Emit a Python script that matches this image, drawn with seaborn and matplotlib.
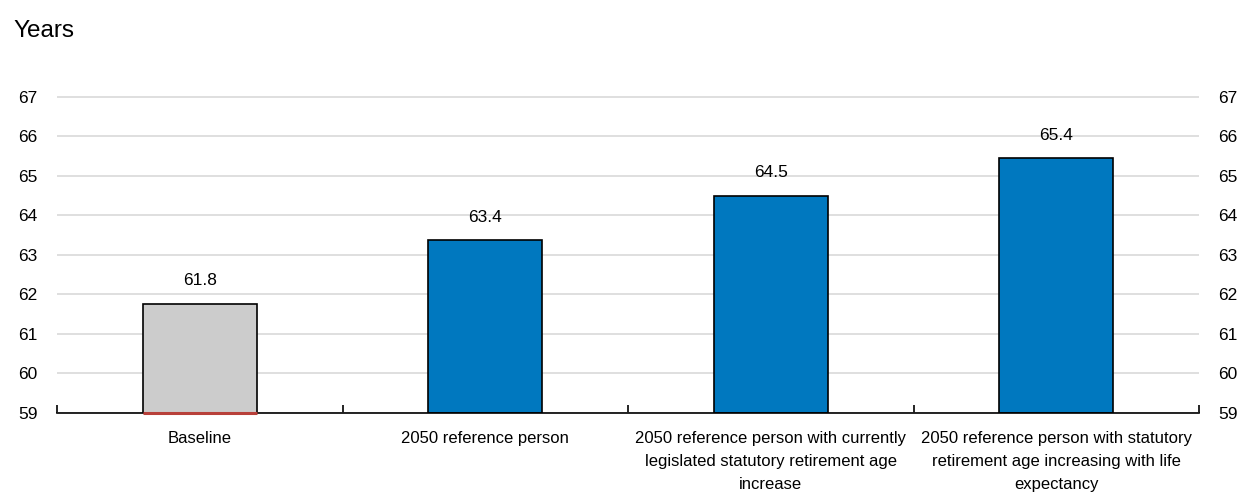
import matplotlib
matplotlib.use("Agg")
import matplotlib.pyplot as plt
import seaborn as sns
import pandas as pd
import numpy as np

categories = [
    "Baseline",
    "2050 reference person",
    "2050 reference person with currently\nlegislated statutory retirement age\nincrease",
    "2050 reference person with statutory\nretirement age increasing with life\nexpectancy",
]
values = [61.77, 63.38, 64.5, 65.44]
bar_colors = ["#CCCCCC", "#0078BF", "#0078BF", "#0078BF"]
y_ticks = [59, 60, 61, 62, 63, 64, 65, 66, 67]

sns.set_theme(style="white")
plt.rcParams["font.family"] = ["Liberation Sans", "DejaVu Sans"]

df = pd.DataFrame({"cat": categories, "val": values})

fig = plt.figure(figsize=(12.39, 4.94), dpi=100)
ax = fig.add_axes([57 / 1239, 1 - 413 / 494, (1199 - 57) / 1239, (413 - 96) / 494])

base = y_ticks[0]
sns.barplot(data=df, x="cat", y="val", hue="cat", palette=bar_colors, legend=False,
            saturation=1, width=0.4, edgecolor="black", linewidth=1.2, ax=ax)

# bars start at the axis floor
patches = sorted(ax.patches, key=lambda p: p.get_x())
for p, v in zip(patches, values):
    p.set_y(base)
    p.set_height(v - base)

ax.set_ylim(base, y_ticks[-1] + 0.02)
ax.set_xlim(-0.5, len(categories) - 0.5)
ax.set_yticks(y_ticks)
ax.yaxis.grid(True, color="#D9D9D9", linewidth=1.2)
ax.set_axisbelow(True)
ax.set_xlabel("")
ax.set_ylabel("")

for s in ["left", "right", "top"]:
    ax.spines[s].set_visible(False)
ax.spines["bottom"].set_color("black")
ax.spines["bottom"].set_linewidth(1.2)

ax.tick_params(axis="y", which="both", length=0, labelsize=12.5, labelleft=True,
               labelright=True, pad=14, colors="black")
ax.tick_params(axis="x", which="major", length=0, labelsize=12, pad=13, colors="black")
ax.set_xticks(range(len(categories)))
ax.set_xticklabels(categories, linespacing=1.68)
ax.set_xticks(np.arange(-0.5, len(categories), 1.0), minor=True)
ax.tick_params(axis="x", which="minor", bottom=True, direction="in", length=6,
               width=1.2, color="black")

labels = [f"{v:.1f}" for v in values]
for p, lab in zip(patches, labels):
    ax.annotate(lab, (p.get_x() + p.get_width() / 2, p.get_y() + p.get_height()),
                xytext=(0, 11), textcoords="offset points", ha="center", va="bottom",
                fontsize=12.5, color="black")

# red bottom edge under baseline bar
p0 = patches[0]
ax.plot([p0.get_x(), p0.get_x() + p0.get_width()], [base, base], color="#B8403A",
        linewidth=2.2, solid_capstyle="butt", clip_on=False, zorder=6)

fig.text(13 / 1239, 1 - 37 / 494, "Years", fontsize=17.5, va="baseline", ha="left",
         color="black")

fig.savefig("out.png", dpi=100)
